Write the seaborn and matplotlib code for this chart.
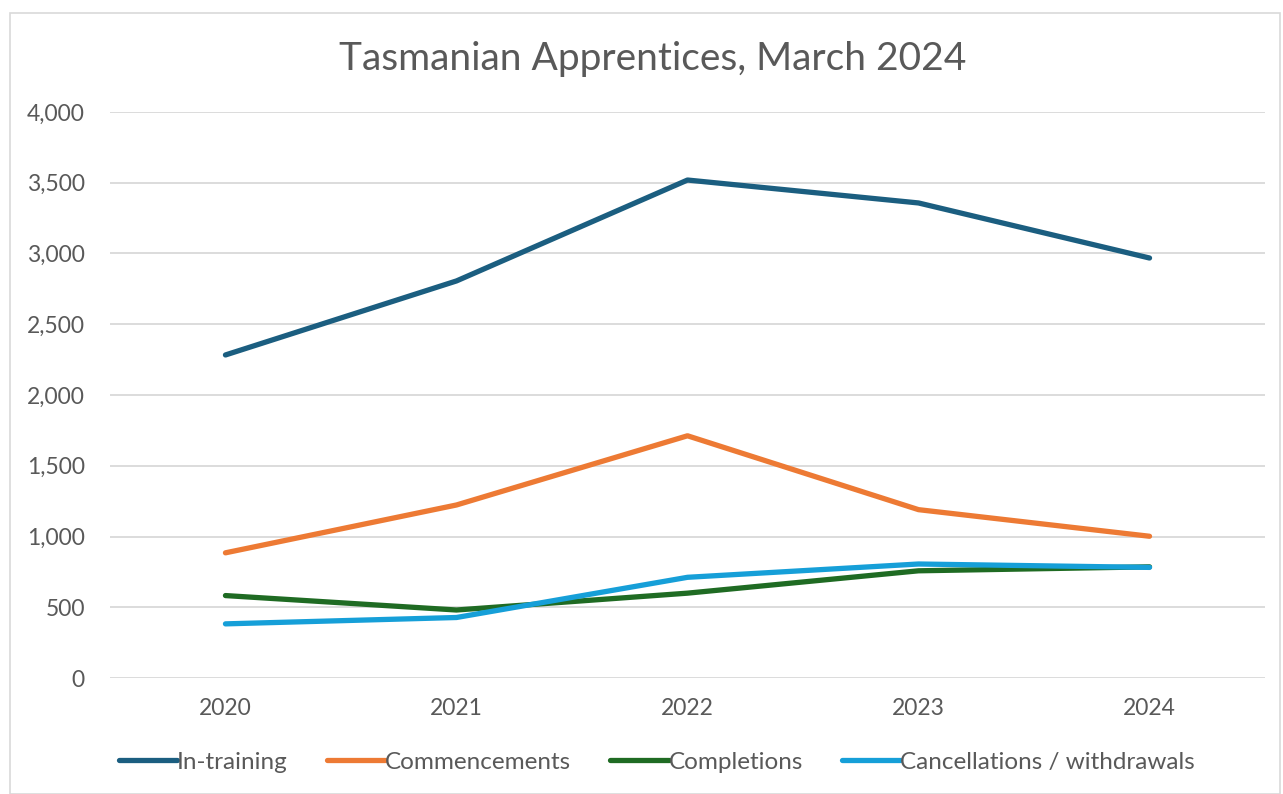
import numpy as np
import pandas as pd
import matplotlib.pyplot as plt
import matplotlib.patches as mpatches
import seaborn as sns

# ── Data ──────────────────────────────────────────────────────────────────────
YEARS = ["2020", "2021", "2022", "2023", "2024"]
IN_TRAINING   = [2283, 2806, 3519, 3357, 2968]
COMMENCEMENTS = [885, 1223, 1712, 1190, 1002]
COMPLETIONS   = [583, 481, 600, 758, 786]
CANCELLATIONS = [383, 428, 712, 806, 782]

SERIES = ["In-training", "Commencements", "Completions", "Cancellations / withdrawals"]
COLORS = ["#1B5E80", "#ED7A34", "#1F6B23", "#169FD8"]

df = pd.DataFrame({
    "year": YEARS * 4,
    "value": IN_TRAINING + COMMENCEMENTS + COMPLETIONS + CANCELLATIONS,
    "series": np.repeat(SERIES, len(YEARS)),
})

# ── Style ─────────────────────────────────────────────────────────────────────
sns.set_theme(style="white")
plt.rcParams["font.family"] = ["Lato", "DejaVu Sans"]
TEXT = "#595959"

fig = plt.figure(figsize=(12.83, 7.94), dpi=100)
ax = fig.add_axes([0.0857, 0.146, 0.9003, 0.713])

sns.lineplot(data=df, x="year", y="value", hue="series", hue_order=SERIES,
             palette=COLORS, linewidth=3.8, sort=False, ax=ax, legend=False)
for line in ax.get_lines():
    line.set_solid_capstyle("round")

ax.set_xlim(-0.5, 4.5)
ax.set_ylim(0, 4000)
ax.set_yticks(range(0, 4001, 500))
ax.yaxis.set_major_formatter(plt.FuncFormatter(lambda v, _: f"{int(v):,}"))
ax.grid(axis="y", color="#D9D9D9", linewidth=1.3)
ax.set_axisbelow(True)
for s in ["top", "right", "left", "bottom"]:
    ax.spines[s].set_visible(False)
ax.tick_params(axis="both", length=0, labelsize=16.5, labelcolor=TEXT)
ax.tick_params(axis="y", pad=18)
ax.tick_params(axis="x", pad=14)
ax.set_xlabel("")
ax.set_ylabel("")

fig.text(0.509, 0.926, "Tasmanian Apprentices, March 2024", ha="center", va="center",
         fontsize=28, color=TEXT)

handles = [plt.Line2D([0], [0], color=c, linewidth=3.8, solid_capstyle="round") for c in COLORS]
fig.legend(handles, SERIES, loc="center", bbox_to_anchor=(0.512, 0.04), ncol=4,
           frameon=False, fontsize=17.5, labelcolor=TEXT, handlelength=2.4,
           handletextpad=0.0, columnspacing=1.6)

# outer chart border
fig.patches.append(mpatches.Rectangle((0.008, 0.0), 0.99, 0.983, transform=fig.transFigure,
                                      fill=False, edgecolor="#D9D9D9", linewidth=1.2))

fig.savefig("out.png", dpi=100)
